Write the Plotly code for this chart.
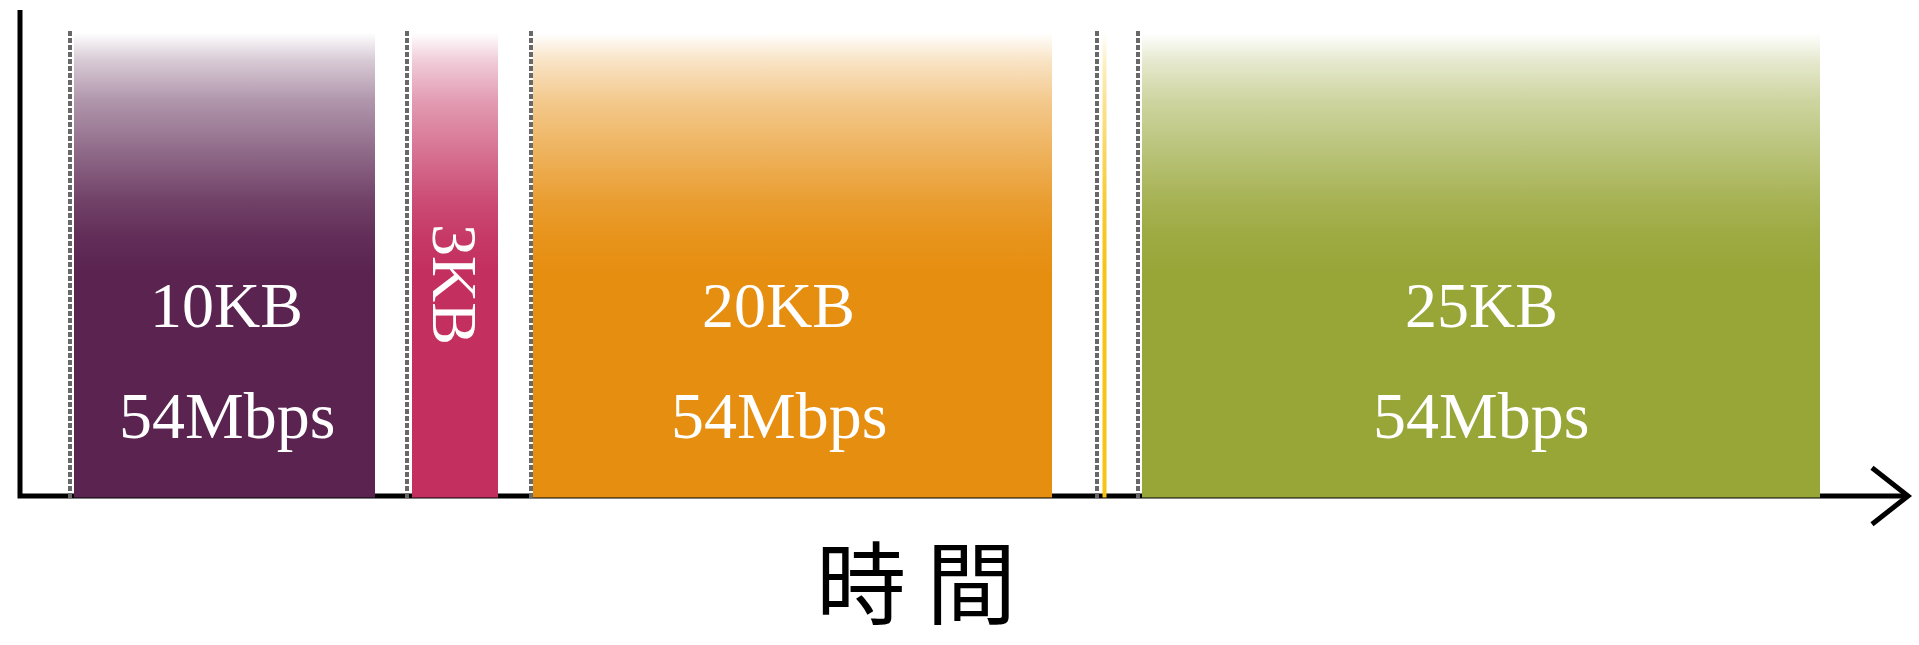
import plotly.graph_objects as go

# Transmission slots along the time axis (arbitrary time units)
slot_start = [5.4, 39.2, 51.3, 108.25, 112.2]
slot_end = [35.5, 47.8, 103.2, 108.65, 180.0]
slot_size = ["10KB", "3KB", "20KB", "", "25KB"]
slot_rate = ["54Mbps", "", "54Mbps", "", "54Mbps"]

# Dashed markers at the beginning of each slot
boundary_x = [5.0, 38.7, 51.1, 107.7, 111.8]

axis_label = "時 間"

# ---- styling ----
slot_colors = ["#5A2350", "#C32F5F", "#E68E10", "#F5C414", "#98A638"]
size_angle = [0, 90, 0, 0, 0]
size_y = [0.391, 0.436, 0.391, 0.391, 0.391]
label_xshift = [2, 0, -14, 0, 0]
rate_y = 0.165

slot_bottom = -0.003
slot_top = 0.953
fade_solid = 0.46       # below this the slot colour is fully opaque
marker_top = 0.961
x_range = [-2.0, 189.9]
y_range = [-0.3066, 1.0206]

# opacity profile of the vertical fade (0 = solid end, 1 = white end)
fade_stops = [(0.0, 1.0), (0.15, 0.95), (0.3, 0.86), (0.5, 0.68),
              (0.715, 0.48), (0.885, 0.24), (1.0, 0.0)]


def rgba(hex_color, a):
    h = hex_color.lstrip("#")
    r, g, b = int(h[0:2], 16), int(h[2:4], 16), int(h[4:6], 16)
    return f"rgba({r},{g},{b},{a:.3f})"


fig = go.Figure()

# time axis (L-shaped: vertical + horizontal)
fig.add_trace(go.Scatter(
    x=[0, 0, 188.4], y=[1.0, 0, 0], mode="lines",
    line=dict(color="black", width=5), hoverinfo="skip",
))
# arrow head
fig.add_trace(go.Scatter(
    x=[185.2, 188.8, 185.2], y=[0.058, 0, -0.058], mode="lines",
    line=dict(color="black", width=5), hoverinfo="skip",
))

# slots with vertical fade
for s, e, c in zip(slot_start, slot_end, slot_colors):
    cs = [[p, rgba(c, a)] for p, a in fade_stops]
    fig.add_trace(go.Scatter(
        x=[s, e, e, s, s],
        y=[slot_bottom, slot_bottom, slot_top, slot_top, slot_bottom],
        mode="none", fill="toself",
        fillgradient=dict(type="vertical", colorscale=cs, start=fade_solid, stop=slot_top),
        hoverinfo="skip",
    ))

# dashed slot boundaries
for bx in boundary_x:
    fig.add_trace(go.Scatter(
        x=[bx, bx], y=[-0.004, marker_top], mode="lines",
        line=dict(color="rgb(104,104,104)", width=4, dash="5px,2px"),
        hoverinfo="skip",
    ))

annotations = []
for s, e, size, rate, ang, sy, dx in zip(slot_start, slot_end, slot_size, slot_rate,
                                          size_angle, size_y, label_xshift):
    xc = (s + e) / 2
    if size:
        annotations.append(dict(
            x=xc, y=sy, xref="x", yref="y", text=size, showarrow=False,
            textangle=ang, xshift=dx,
            font=dict(family="Liberation Serif", size=64, color="white"),
        ))
    if rate:
        annotations.append(dict(
            x=xc, y=rate_y, xref="x", yref="y", text=rate, showarrow=False,
            xshift=dx,
            font=dict(family="Liberation Serif", size=66, color="white"),
        ))

annotations.append(dict(
    x=89.6, y=-0.1687, xref="x", yref="y", text=axis_label, showarrow=False,
    font=dict(family="Noto Sans CJK JP", size=90, color="black"),
))

fig.update_layout(
    width=1919, height=645,
    margin=dict(l=0, r=0, t=0, b=0),
    paper_bgcolor="white", plot_bgcolor="white",
    showlegend=False,
    xaxis=dict(visible=False, range=x_range, fixedrange=True),
    yaxis=dict(visible=False, range=y_range, fixedrange=True),
    annotations=annotations,
)

fig.write_html("out.html")
